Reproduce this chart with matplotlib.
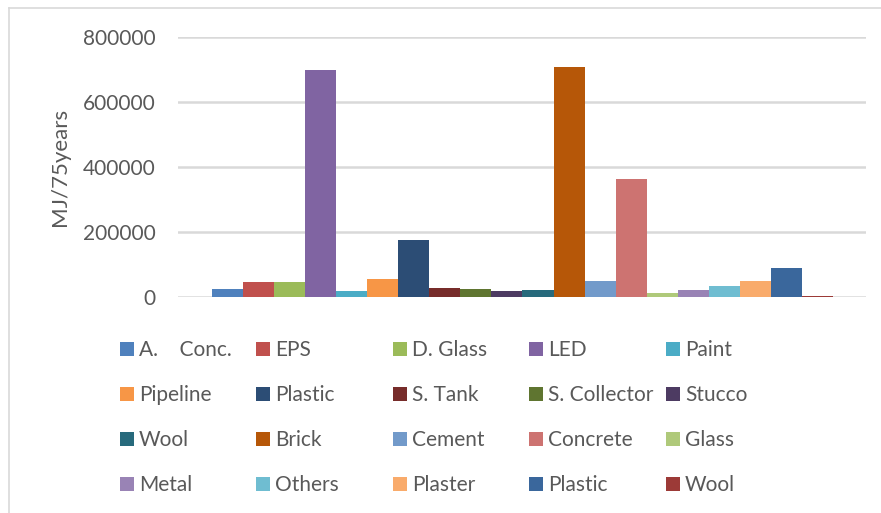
import matplotlib
matplotlib.use("Agg")
import matplotlib.pyplot as plt
from matplotlib.patches import Rectangle
from matplotlib.lines import Line2D
import numpy as np

# Embodied energy per material over a 75-year life span
materials = ["A.    Conc.", "EPS", "D. Glass", "LED", "Paint",
             "Pipeline", "Plastic", "S. Tank", "S. Collector", "Stucco",
             "Wool", "Brick", "Cement", "Concrete", "Glass",
             "Metal", "Others", "Plaster", "Plastic", "Wool"]
energy = [24000, 45000, 45000, 698000, 17500,
          54500, 175000, 27500, 23500, 17500,
          20500, 707000, 48000, 362000, 11500,
          20500, 33000, 48000, 88000, 3000]
colors = ["#4F81BD", "#C0504D", "#9BBB59", "#8064A2", "#4BACC6",
          "#F79646", "#2C4D75", "#772C2A", "#5F7530", "#4D3B62",
          "#276A7C", "#B65708", "#729ACA", "#CD7371", "#AFC97A",
          "#9983B5", "#6FBDD1", "#F9AB6B", "#3A679C", "#9C3A37"]
yticks = [0, 200000, 400000, 600000, 800000]

plt.rcParams["font.family"] = ["Lato", "DejaVu Sans"]
text_color = "#595959"
grid_color = "#D9D9D9"

W, H = 881, 513
fig = plt.figure(figsize=(W / 100, H / 100), dpi=100)
fig.patch.set_facecolor("white")

# Plot area in pixel coordinates
x0, x1 = 178, 866
y_top, y_zero = 37, 296.7
ax = fig.add_axes([x0 / W, 1 - y_zero / H, (x1 - x0) / W, (y_zero - y_top) / H])

idx = np.arange(len(energy))
ax.bar(idx, energy, width=1.0, color=colors, zorder=3)

ax.set_ylim(0, 800000)
ax.set_xlim(-1.595, 20.563)
ax.set_yticks(yticks)
ax.set_yticklabels([str(v) for v in yticks])
ax.set_xticks([])
ax.tick_params(axis="y", length=0, pad=16, labelsize=15, labelcolor=text_color)
for s in ax.spines.values():
    s.set_visible(False)
ax.yaxis.grid(True, color=grid_color, linewidth=1.8, zorder=0)
ax.set_axisbelow(True)

# Axis title
fig.text(60 / W, 1 - 166.5 / H, "MJ/75years", rotation=90, fontsize=16,
         color=text_color, ha="center", va="center")

# Chart frame (left and top edges)
fig.add_artist(Line2D([9 / W, 9 / W], [0, 1 - 8 / H], color=grid_color, linewidth=1.2,
                      transform=fig.transFigure))
fig.add_artist(Line2D([9 / W, 1], [1 - 8 / H, 1 - 8 / H], color=grid_color, linewidth=1.2,
                      transform=fig.transFigure))

# Legend: 5 columns x 4 rows
col_x = [120, 256, 393, 529, 666]
row_y = [349, 394, 439, 484]
for i, (name, c) in enumerate(zip(materials, colors)):
    r, k = divmod(i, 5)
    px, py = col_x[k], row_y[r]
    fig.add_artist(Rectangle((px / W, 1 - (py + 7) / H), 14 / W, 14 / H,
                             facecolor=c, edgecolor="none", transform=fig.transFigure))
    fig.text((px + 19) / W, 1 - (py + 1) / H, name, fontsize=15, color=text_color,
             ha="left", va="center")

fig.savefig("out.png", dpi=100, facecolor="white")
